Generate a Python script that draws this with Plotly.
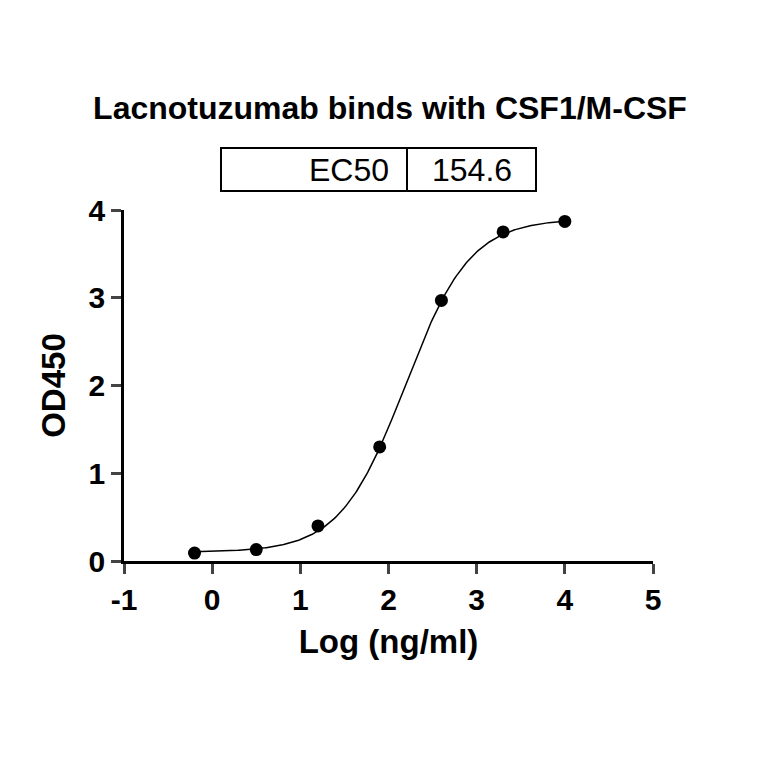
import numpy as np
import plotly.graph_objects as go

log_conc = [-0.2, 0.5, 1.2, 1.9, 2.6, 3.3, 4.0]
od450 = [0.09, 0.13, 0.40, 1.30, 2.97, 3.75, 3.87]
x_ticks = [-1, 0, 1, 2, 3, 4, 5]
x_labels = ["-1", "0", "1", "2", "3", "4", "5"]
y_ticks = [0, 1, 2, 3, 4]
ec50 = 154.6
bottom, top, hill = 0.10, 3.90, 1.18

xc = np.linspace(-0.2, 4.0, 300)
yc = bottom + (top - bottom) / (1 + 10 ** ((np.log10(ec50) - xc) * hill))

fig = go.Figure()
fig.add_trace(go.Scatter(x=xc, y=yc, mode="lines", line=dict(color="black", width=1.5), cliponaxis=False))
fig.add_trace(go.Scatter(x=log_conc, y=od450, mode="markers", marker=dict(color="black", size=13), cliponaxis=False))

L, R, T, B = 116, 645, 202, 553
def px(x): return (x - L) / (R - L)
def py(y): return (B - y) / (B - T)

fig.update_layout(
    width=764, height=764, showlegend=False,
    plot_bgcolor="white", paper_bgcolor="white",
    margin=dict(l=L, r=764 - R, t=T, b=764 - B),
    font=dict(family="Liberation Sans, Arial", color="black"),
    title=dict(text="<b>Lacnotuzumab binds with CSF1/M-CSF</b>", x=0.5, xanchor="center",
               y=1 - 100 / 764, yanchor="middle", font=dict(size=32)),
    xaxis=dict(range=[-1, 5], tickvals=x_ticks, ticktext=x_labels, ticks="outside", ticklen=10, tickwidth=2.5,
               showline=True, linewidth=2.5, linecolor="black", showgrid=False, zeroline=False,
               tickfont=dict(size=30, weight="bold"),
               title=dict(text="<b>Log (ng/ml)</b>", font=dict(size=33), standoff=16)),
    yaxis=dict(range=[0, 4], tickvals=y_ticks, ticks="outside", ticklen=10, tickwidth=2.5,
               showline=True, linewidth=2.5, linecolor="black", showgrid=False, zeroline=False,
               tickfont=dict(size=30, weight="bold"),
               title=dict(text="<b>OD450</b>", font=dict(size=33), standoff=14)),
)

y0, y1 = py(183), py(140)
fig.add_shape(type="rect", xref="paper", yref="paper", x0=px(213), x1=px(528), y0=y0, y1=y1,
              line=dict(color="black", width=2))
fig.add_shape(type="line", xref="paper", yref="paper", x0=px(399), x1=px(399), y0=y0, y1=y1,
              line=dict(color="black", width=2))
fig.add_annotation(xref="paper", yref="paper", x=px(383), y=(y0 + y1) / 2, text="EC50", showarrow=False,
                   xanchor="right", yanchor="middle", font=dict(size=32))
fig.add_annotation(xref="paper", yref="paper", x=px(464), y=(y0 + y1) / 2, text=f"{ec50}", showarrow=False,
                   xanchor="center", yanchor="middle", font=dict(size=32))

fig.write_html("out.html")
